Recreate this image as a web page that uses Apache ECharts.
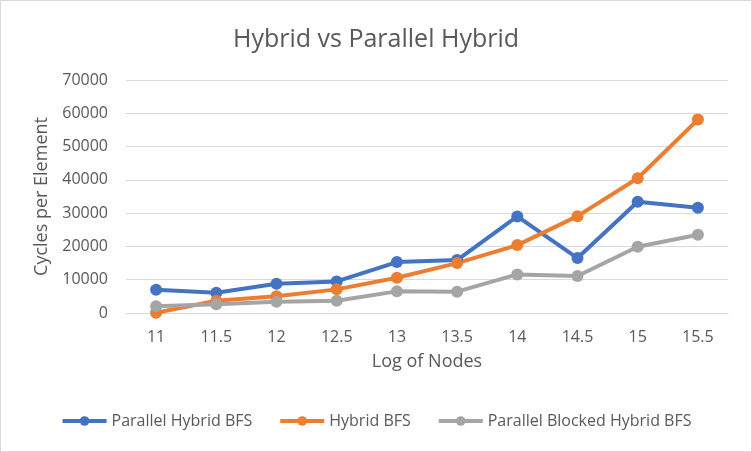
<!DOCTYPE html>
<html lang="en">
<head>
  <meta charset="UTF-8">
  <title>Hybrid vs Parallel Hybrid</title>
  <style>
    html, body { margin: 0; padding: 0; background: #fff; }
    #main {
      width: 750px;
      height: 450px;
      border: 1px solid #d9d9d9;
    }
  </style>
</head>
<body>
  <div id="main"></div>
  <script src="https://cdn.jsdelivr.net/npm/echarts@6/dist/echarts.min.js"></script>
  <script>
    // 数据
    var logNodes = ['11', '11.5', '12', '12.5', '13', '13.5', '14', '14.5', '15', '15.5'];
    var parallelHybrid = [7000, 6100, 8800, 9500, 15300, 15900, 29000, 16500, 33400, 31600];
    var hybrid = [100, 3700, 5000, 7100, 10600, 15000, 20400, 29100, 40500, 58100];
    var parallelBlocked = [2000, 2600, 3400, 3700, 6500, 6400, 11600, 11100, 19900, 23500];

    var font = 'Open Sans';
    var grey = '#595959';

    var myChart = echarts.init(document.getElementById('main'));

    function lineSeries(name, data, color) {
      return {
        name: name,
        type: 'line',
        data: data,
        symbol: 'circle',
        symbolSize: 12,
        lineStyle: { width: 4, color: color },
        itemStyle: { color: color },
        animation: false
      };
    }

    myChart.setOption({
      title: {
        text: 'Hybrid vs Parallel Hybrid',
        left: 'center',
        top: 21,
        textStyle: { fontFamily: font, fontSize: 25, fontWeight: 'normal', color: grey }
      },
      legend: {
        bottom: 17,
        itemWidth: 44,
        itemHeight: 12,
        itemGap: 26,
        lineStyle: { width: 4 },
        textStyle: { fontFamily: font, fontSize: 16, color: grey },
        data: ['Parallel Hybrid BFS', 'Hybrid BFS', 'Parallel Blocked Hybrid BFS']
      },
      grid: { left: 125, right: 23, top: 79, height: 233 },
      xAxis: {
        type: 'category',
        data: logNodes,
        boundaryGap: true,
        name: 'Log of Nodes',
        nameLocation: 'middle',
        nameGap: 40,
        nameTextStyle: { fontFamily: font, fontSize: 18, color: grey },
        axisLine: { lineStyle: { color: '#d9d9d9', width: 1 } },
        axisTick: { show: false },
        axisLabel: { fontFamily: font, fontSize: 16, color: grey, margin: 16 }
      },
      yAxis: {
        type: 'value',
        min: 0,
        max: 70000,
        interval: 10000,
        name: 'Cycles per Element',
        nameLocation: 'middle',
        nameGap: 73,
        nameTextStyle: { fontFamily: font, fontSize: 18, color: grey },
        axisLine: { show: false },
        axisTick: { show: false },
        splitLine: { lineStyle: { color: '#d9d9d9', width: 1 } },
        axisLabel: {
          fontFamily: font, fontSize: 16, color: grey, margin: 18,
          formatter: function (v) { return String(v); }
        }
      },
      series: [
        lineSeries('Parallel Hybrid BFS', parallelHybrid, '#4472c4'),
        lineSeries('Hybrid BFS', hybrid, '#ed7d31'),
        lineSeries('Parallel Blocked Hybrid BFS', parallelBlocked, '#a5a5a5')
      ]
    });
  </script>
</body>
</html>
